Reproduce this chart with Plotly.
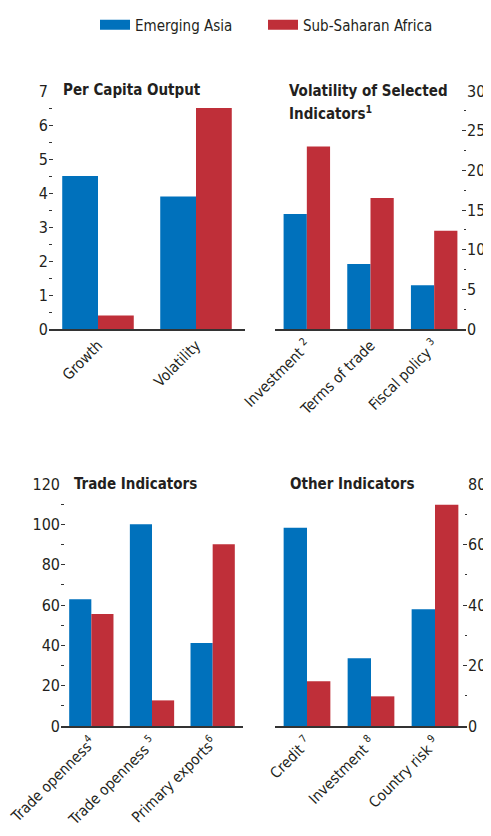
import plotly.graph_objects as go

# ---------------- data ----------------
series_names = ["Emerging Asia", "Sub-Saharan Africa"]
series_colors = ["#0071BC", "#BF2F39"]

pc_categories = ["Growth", "Volatility"]
pc_asia = [4.5, 3.9]
pc_africa = [0.4, 6.5]

vol_categories = ["Investment <sup>2</sup>", "Terms of trade", "Fiscal policy <sup>3</sup>"]
vol_asia = [14.5, 8.2, 5.5]
vol_africa = [23.0, 16.5, 12.4]

trade_categories = ["Trade openness<sup>4</sup>", "Trade openness <sup>5</sup>", "Primary exports<sup>6</sup>"]
trade_asia = [62.9, 100.0, 41.1]
trade_africa = [55.5, 12.7, 90.1]

other_categories = ["Credit <sup>7</sup>", "Investment <sup>8</sup>", "Country risk <sup>9</sup>"]
other_asia = [65.5, 22.4, 38.6]
other_africa = [14.8, 9.8, 73.1]

titles = ["Per Capita Output", "Volatility of Selected", "Indicators<sup>1</sup>",
          "Trade Indicators", "Other Indicators"]

# ---------------- styling ----------------
OFF = 8                      # page body margin
W, H = 491 - OFF, 836 - OFF
FONT = "DejaVu Sans Condensed, Liberation Sans Narrow, sans-serif"
TXT = "#231F20"
AX = "#333333"

def fx(a):
    return (a - OFF) / W

def fy(a):
    return 1 - (a - OFF) / H

def px_x(a, b):
    return [fx(a), fx(b)]

def px_y(top, bottom):
    return [fy(bottom), fy(top)]

fig = go.Figure()

panels = [
    (pc_categories, pc_asia, pc_africa, "x", "y"),
    (vol_categories, vol_asia, vol_africa, "x2", "y3"),
    (trade_categories, trade_asia, trade_africa, "x3", "y5"),
    (other_categories, other_asia, other_africa, "x4", "y7"),
]

for cats, a, b, xa, ya in panels:
    fig.add_trace(go.Bar(x=cats, y=a, name=series_names[0], marker_color=series_colors[0],
                         marker_line_width=0, xaxis=xa, yaxis=ya, showlegend=False, offsetgroup="a"))
    fig.add_trace(go.Bar(x=cats, y=b, name=series_names[1], marker_color=series_colors[1],
                         marker_line_width=0, xaxis=xa, yaxis=ya, showlegend=False, offsetgroup="b"))

# legend entries
fig.add_trace(go.Scatter(x=[None], y=[None], mode="lines", name=series_names[0],
                         line=dict(color=series_colors[0], width=13), legend="legend", xaxis="x", yaxis="y"))
fig.add_trace(go.Scatter(x=[None], y=[None], mode="lines", name=series_names[1],
                         line=dict(color=series_colors[1], width=13), legend="legend2", xaxis="x", yaxis="y"))

def xaxis(domain, anchor):
    return dict(domain=domain, anchor=anchor, showline=True, linecolor=AX, linewidth=1.5,
                ticks="", tickangle=-45, showgrid=False, zeroline=False, automargin=False,
                tickfont=dict(family=FONT, size=15, color=TXT), fixedrange=True)

def yaxis(domain, anchor, rng, dtick, side, labels, overlaying=None):
    d = dict(anchor=anchor, range=rng, dtick=dtick, side=side, showticklabels=labels,
             ticks="inside", ticklen=4, tickwidth=1, tickcolor=AX, automargin=False,
             minor=dict(ticks="inside", ticklen=2.5, dtick=dtick / 2, tickcolor=AX, tickwidth=1),
             showgrid=False, zeroline=False, showline=False,
             tickfont=dict(family=FONT, size=16, color=TXT), fixedrange=True)
    if overlaying:
        d["overlaying"] = overlaying
    else:
        d["domain"] = domain
    return d

top = px_y(91, 329)
bot = px_y(484, 726)

fig.update_layout(
    width=W, height=H,
    margin=dict(l=0, r=0, t=0, b=0, autoexpand=False),
    paper_bgcolor="white", plot_bgcolor="white",
    barmode="group", bargap=0.27, bargroupgap=0,
    font=dict(family=FONT, color=TXT),
    xaxis=xaxis(px_x(49, 245), "y"),
    yaxis=yaxis(top, "x", [0, 7], 1, "left", True),
    yaxis2=yaxis(top, "x", [0, 7], 1, "right", False, overlaying="y"),
    xaxis2=xaxis(px_x(275, 466), "y3"),
    yaxis3=yaxis(top, "x2", [0, 30], 5, "right", True),
    yaxis4=yaxis(top, "x2", [0, 30], 5, "left", False, overlaying="y3"),
    xaxis3=xaxis(px_x(61, 243), "y5"),
    yaxis5=yaxis(bot, "x3", [0, 120], 20, "left", True),
    yaxis6=yaxis(bot, "x3", [0, 120], 20, "right", False, overlaying="y5"),
    xaxis4=xaxis(px_x(275, 467), "y7"),
    yaxis7=yaxis(bot, "x4", [0, 80], 20, "right", True),
    yaxis8=yaxis(bot, "x4", [0, 80], 20, "left", False, overlaying="y7"),
    legend=dict(orientation="h", x=fx(95), xanchor="left", y=fy(25), yanchor="middle",
                font=dict(family=FONT, size=15, color=TXT), bgcolor="rgba(0,0,0,0)"),
    legend2=dict(orientation="h", x=fx(263), xanchor="left", y=fy(25), yanchor="middle",
                 font=dict(family=FONT, size=15, color=TXT), bgcolor="rgba(0,0,0,0)"),
)

title_pos = [(61, 90), (287, 91), (287, 113), (72, 484), (288, 484)]
for t, (x, y) in zip(titles, title_pos):
    fig.add_annotation(text="<b>" + t + "</b>", xref="paper", yref="paper",
                       x=fx(x), y=fy(y), xanchor="left", yanchor="middle", showarrow=False,
                       font=dict(family=FONT, size=15, color=TXT))

fig.write_html("out.html")
